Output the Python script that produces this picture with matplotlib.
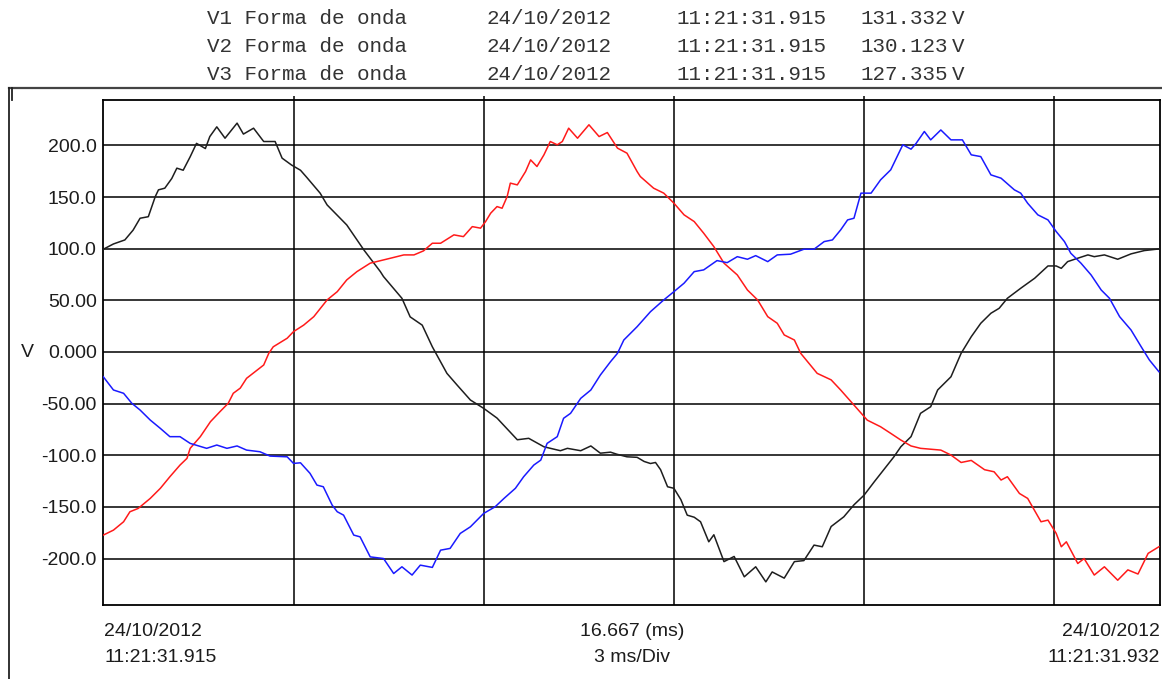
import matplotlib
matplotlib.use("Agg")
import matplotlib.pyplot as plt
from matplotlib.lines import Line2D

# ---- waveform samples (time in ms, voltage in V) ----
v1_t = [0.00, 0.16, 0.34, 0.47, 0.58, 0.71, 0.82, 0.87, 0.97, 1.08, 1.16, 1.26, 1.37, 1.47,
        1.61, 1.68, 1.79, 1.92, 2.11, 2.21, 2.37, 2.53, 2.71, 2.82, 2.97, 3.11, 3.21, 3.42,
        3.53, 3.84, 4.11, 4.37, 4.42, 4.71, 4.84, 5.03, 5.19, 5.42, 5.58, 5.79, 6.00, 6.21,
        6.53, 6.71, 6.95, 7.21, 7.32, 7.53, 7.69, 7.84, 8.00, 8.10, 8.26, 8.42, 8.53, 8.63,
        8.71, 8.79, 8.90, 9.00, 9.11, 9.21, 9.32, 9.42, 9.55, 9.63, 9.79, 9.95, 10.11, 10.29,
        10.45, 10.55, 10.74, 10.90, 11.05, 11.21, 11.34, 11.48, 11.68, 11.84, 12.00, 12.16,
        12.47, 12.58, 12.74, 12.89, 13.05, 13.16, 13.37, 13.53, 13.69, 13.84, 14.00, 14.13,
        14.26, 14.47, 14.69, 14.90, 15.03, 15.11, 15.21, 15.37, 15.53, 15.63, 15.79, 16.00,
        16.21, 16.42, 16.61, 16.667]
v1_v = [99.5, 104.6, 108.5, 118.0, 129.5, 131.0, 150.5, 157.0, 158.6, 168.0, 178.0, 176.0,
        189.0, 202.0, 197.0, 208.6, 218.0, 207.0, 221.6, 211.0, 216.7, 203.8, 203.8, 187.7,
        181.0, 176.0, 169.0, 153.8, 142.4, 123.0, 98.8, 77.8, 73.0, 52.0, 34.0, 26.0, 5.0,
        -20.7, -32.0, -46.5, -54.6, -64.0, -85.0, -83.6, -91.8, -95.6, -93.3, -95.6, -91.0,
        -98.0, -97.0, -99.0, -101.5, -102.0, -106.0, -108.0, -107.0, -114.0, -130.5, -132.0,
        -143.0, -158.0, -160.0, -164.4, -183.8, -177.0, -203.0, -198.0, -217.7, -208.0,
        -222.6, -213.0, -219.0, -203.0, -202.0, -187.0, -188.6, -169.0, -159.6, -148.0,
        -138.6, -125.7, -101.5, -91.7, -82.0, -59.4, -53.0, -36.8, -24.0, -1.3, 14.8, 27.8,
        37.5, 42.3, 52.0, 61.7, 71.4, 83.3, 83.3, 81.0, 87.5, 90.8, 94.0, 92.3, 94.0, 89.8,
        95.0, 98.2, 99.5, 100.0]

v2_t = [0.00, 0.16, 0.32, 0.42, 0.55, 0.74, 0.90, 1.05, 1.21, 1.32, 1.37, 1.53, 1.69, 1.84,
        1.97, 2.05, 2.16, 2.26, 2.53, 2.61, 2.68, 2.90, 3.00, 3.16, 3.32, 3.53, 3.69, 3.84,
        4.00, 4.21, 4.53, 4.74, 4.90, 5.05, 5.19, 5.32, 5.53, 5.68, 5.82, 5.95, 6.03, 6.11,
        6.21, 6.29, 6.37, 6.42, 6.53, 6.66, 6.74, 6.84, 6.95, 7.05, 7.16, 7.24, 7.34, 7.48,
        7.66, 7.82, 7.95, 8.11, 8.26, 8.42, 8.47, 8.68, 8.84, 9.00, 9.16, 9.32, 9.47, 9.63,
        9.79, 10.00, 10.16, 10.32, 10.48, 10.63, 10.74, 10.90, 11.00, 11.26, 11.48, 11.63,
        11.84, 12.05, 12.26, 12.42, 12.58, 12.74, 12.89, 13.21, 13.37, 13.53, 13.69, 13.90,
        14.05, 14.16, 14.26, 14.45, 14.58, 14.79, 14.90, 15.03, 15.11, 15.19, 15.37, 15.47,
        15.63, 15.79, 16.00, 16.16, 16.32, 16.48, 16.65]
v2_v = [-177.3, -172.5, -164.4, -154.7, -151.5, -141.8, -132.0, -120.8, -109.5, -103.0,
        -93.3, -82.0, -67.5, -57.8, -49.7, -40.0, -35.0, -25.5, -12.6, -1.3, 5.0, 13.3, 19.7,
        26.0, 34.2, 50.4, 58.4, 69.8, 77.8, 86.0, 90.8, 94.0, 94.0, 97.9, 105.3, 105.3, 113.4,
        111.7, 121.4, 119.9, 126.3, 134.4, 140.8, 139.2, 150.5, 163.5, 161.8, 174.7, 186.0,
        179.6, 190.9, 203.8, 200.6, 203.8, 216.7, 207.0, 220.0, 208.6, 212.5, 197.4, 192.5,
        174.7, 169.9, 158.6, 153.8, 144.1, 132.8, 126.3, 115.0, 102.0, 86.0, 74.6, 60.0, 50.4,
        34.2, 27.8, 16.5, 11.6, -1.3, -20.7, -27.0, -36.8, -51.4, -66.0, -72.4, -78.8, -85.3,
        -91.0, -93.3, -95.0, -99.8, -107.0, -105.0, -114.0, -116.0, -124.0, -120.8, -137.0,
        -141.8, -164.4, -162.8, -175.7, -188.6, -183.8, -204.8, -200.0, -216.0, -208.0,
        -221.0, -211.0, -215.0, -195.0, -188.6]

v3_t = [0.00, 0.16, 0.32, 0.45, 0.58, 0.74, 0.90, 1.05, 1.21, 1.37, 1.63, 1.79, 1.95, 2.11,
        2.26, 2.47, 2.63, 2.90, 3.00, 3.11, 3.26, 3.37, 3.47, 3.61, 3.69, 3.79, 3.95, 4.05,
        4.21, 4.42, 4.58, 4.71, 4.87, 5.00, 5.19, 5.32, 5.47, 5.63, 5.79, 6.00, 6.18, 6.32,
        6.50, 6.63, 6.79, 6.90, 7.00, 7.16, 7.26, 7.37, 7.53, 7.69, 7.84, 8.00, 8.11, 8.21,
        8.42, 8.63, 8.84, 9.00, 9.16, 9.32, 9.47, 9.68, 9.84, 10.00, 10.16, 10.29, 10.48,
        10.63, 10.84, 11.05, 11.21, 11.37, 11.50, 11.63, 11.74, 11.84, 11.95, 12.11, 12.26,
        12.42, 12.61, 12.74, 12.82, 12.95, 13.05, 13.21, 13.37, 13.55, 13.69, 13.84, 14.00,
        14.16, 14.37, 14.47, 14.58, 14.74, 14.90, 15.03, 15.16, 15.26, 15.42, 15.58, 15.74,
        15.87, 16.03, 16.21, 16.37, 16.50, 16.65]
v3_v = [-24.0, -36.8, -40.0, -49.7, -56.2, -65.9, -74.0, -82.0, -82.0, -88.5, -93.3, -90.1,
        -93.3, -91.0, -95.0, -96.6, -100.8, -101.5, -107.9, -107.3, -117.5, -128.9, -130.5,
        -148.3, -154.7, -158.0, -177.3, -179.0, -198.4, -200.0, -214.5, -208.0, -216.0,
        -206.4, -208.6, -191.9, -190.2, -175.7, -169.3, -156.3, -149.9, -141.8, -132.0,
        -120.8, -109.5, -104.7, -88.5, -82.0, -64.2, -59.4, -44.9, -36.8, -22.3, -9.4, -1.3,
        11.6, 24.5, 39.0, 50.4, 58.4, 66.6, 77.8, 79.5, 88.5, 86.5, 92.3, 89.8, 93.3, 87.5,
        94.0, 94.7, 99.5, 99.5, 106.9, 108.5, 118.2, 127.9, 129.5, 153.8, 153.8, 166.7, 176.4,
        200.6, 196.4, 202.0, 213.5, 205.4, 215.0, 205.4, 205.4, 190.9, 189.2, 171.5, 168.3,
        157.0, 153.8, 144.0, 132.8, 127.9, 116.6, 106.9, 95.6, 86.0, 74.6, 60.0, 52.0, 34.2,
        21.3, 5.1, -7.8, -19.1]

# ---- header rows and axis labels ----
header_names = ["V1 Forma de onda", "V2 Forma de onda", "V3 Forma de onda"]
header_dates = ["24/10/2012", "24/10/2012", "24/10/2012"]
header_times = ["11:21:31.915", "11:21:31.915", "11:21:31.915"]
header_rms = ["131.332", "130.123", "127.335"]

y_ticks = [200, 150, 100, 50, 0, -50, -100, -150, -200]
y_tick_labels = ["200.0", "150.0", "100.0", "50.00", "0.000", "-50.00", "-100.0", "-150.0", "-200.0"]
x_grid = [3, 6, 9, 12, 15]
period_ms = 16.667

start_label = ["24/10/2012", "11:21:31.915"]
mid_label = ["16.667 (ms)", "3 ms/Div"]
end_label = ["24/10/2012", "11:21:31.932"]

W, H = 1162, 679
fig = plt.figure(figsize=(W / 100, H / 100), dpi=100)
fig.patch.set_facecolor("white")

def fx(px):
    return px / W

def fy(py):
    return 1 - py / H

ax = fig.add_axes([fx(103.3), fy(605), fx(1160) - fx(103.3), fy(100) - fy(605)])
ax.set_xlim(0, period_ms)
ax.set_ylim(-245, 244)

# grid
for yv in y_ticks:
    ax.axhline(yv, color="black", lw=1.1, zorder=1)
ax.vlines(x_grid, -245, 247.5, color="black", lw=1.1, zorder=1, clip_on=False)

for s in ax.spines.values():
    s.set_linewidth(1.3)
    s.set_color("black")

# waveforms
ax.plot(v1_t, v1_v, color="#1e1e1e", lw=1.1, zorder=3)
ax.plot(v2_t, v2_v, color="#ff1a1a", lw=1.1, zorder=3)
ax.plot(v3_t, v3_v, color="#1a1aff", lw=1.1, zorder=3)

ax.set_xticks([])
ax.set_yticks(y_ticks)
ax.set_yticklabels(y_tick_labels)
ax.tick_params(axis="y", length=0, pad=4.8, labelsize=14, labelcolor="#1c1c1c")
for lab in ax.get_yticklabels():
    lab.set_family("Liberation Sans")

sans = dict(family="Liberation Sans", fontsize=14, color="#1c1c1c")
fig.text(fx(27), fy(352), "V", ha="center", va="center", **sans)

# bottom time labels
for i, py in enumerate([631, 658]):
    fig.text(fx(104), fy(py), start_label[i], ha="left", va="center", **sans)
    fig.text(fx(632), fy(py), mid_label[i], ha="center", va="center", **sans)
    fig.text(fx(1160), fy(py), end_label[i], ha="right", va="center", **sans)

# header table
mono = dict(family="Liberation Mono", fontsize=15, color="#333333")
for i, py in enumerate([18, 46, 74]):
    fig.text(fx(207), fy(py), header_names[i], ha="left", va="center", **mono)
    fig.text(fx(487), fy(py), header_dates[i], ha="left", va="center", **mono)
    fig.text(fx(676), fy(py), header_times[i], ha="left", va="center", **mono)
    fig.text(fx(860), fy(py), header_rms[i], ha="left", va="center", **mono)
    fig.text(fx(952), fy(py), "V", ha="left", va="center", **mono)

# outer panel frame
fig.add_artist(Line2D([fx(8.5), 1], [fy(87.7), fy(87.7)], transform=fig.transFigure,
                      color="#444444", lw=1.6))
fig.add_artist(Line2D([fx(8.5), fx(8.5)], [fy(87.7), 0], transform=fig.transFigure,
                      color="#222222", lw=1.3))
fig.add_artist(Line2D([fx(11.5), fx(11.5)], [fy(88), fy(100)], transform=fig.transFigure,
                      color="#222222", lw=1.3))

fig.savefig("out.png", dpi=100, facecolor="white")
